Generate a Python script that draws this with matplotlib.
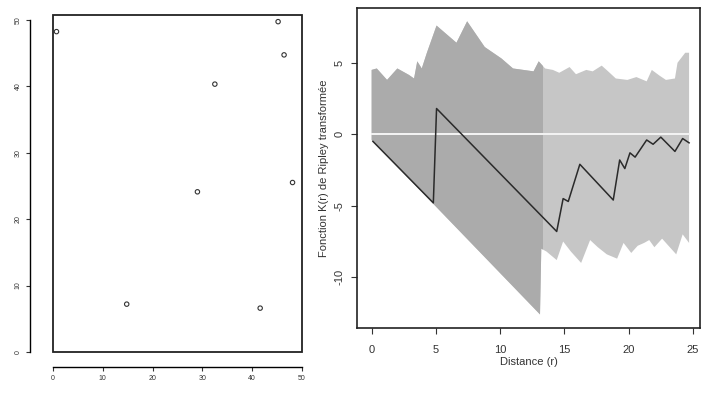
import matplotlib
matplotlib.use("Agg")
import matplotlib.pyplot as plt
from matplotlib.patches import Rectangle
import numpy as np

plt.rcParams['font.family'] = ['Liberation Sans', 'DejaVu Sans']
plt.rcParams['axes.unicode_minus'] = False

# point pattern (coordinates in metres)
pts_x = [0.7, 14.8, 29.0, 32.5, 45.2, 46.4, 48.1, 41.6]
pts_y = [48.2, 7.2, 24.1, 40.3, 49.7, 44.7, 25.5, 6.6]

# simulation envelope, upper and lower bounds
r_hi = [0, 0.4, 1.2, 2.0, 2.9, 3.3, 3.55, 3.9, 4.3, 5.05, 6.6, 7.43, 8.8, 10.1,
        11.0, 12.6, 13.0, 13.5, 14.1, 14.6, 15.4, 15.9, 16.7, 17.2, 17.9, 18.4,
        19.0, 19.9, 20.6, 21.4, 21.8, 22.4, 22.9, 23.6, 23.8, 24.4, 24.7]
k_hi = [4.5, 4.6, 3.8, 4.6, 4.15, 3.9, 5.1, 4.6, 5.7, 7.6, 6.4, 7.9, 6.1, 5.3,
        4.6, 4.4, 5.1, 4.6, 4.5, 4.3, 4.7, 4.2, 4.5, 4.4, 4.8, 4.4,
        3.9, 3.8, 4.0, 3.7, 4.5, 4.1, 3.8, 3.9, 5.0, 5.7, 5.7]
r_lo = [0, 13.1, 13.2, 13.6, 14.4, 14.9, 15.5, 16.3, 17.0, 17.6, 18.3, 19.1,
        19.6, 20.2, 20.7, 21.2, 21.6, 22.0, 22.6, 23.2, 23.7, 24.2, 24.7]
k_lo = [-0.4, -12.6, -8.0, -8.2, -8.8, -7.5, -8.2, -9.0, -7.4, -7.9, -8.4, -8.7,
        -7.6, -8.3, -7.8, -7.6, -7.4, -7.9, -7.3, -7.9, -8.4, -7.0, -7.6]

# observed transformed K function
r_obs = [0.1, 4.8, 5.05, 14.4, 14.9, 15.3, 16.2, 18.8, 19.3, 19.7, 20.1, 20.5,
         21.4, 21.9, 22.5, 23.6, 24.2, 24.7]
k_obs = [-0.5, -4.8, 1.8, -6.8, -4.5, -4.7, -2.1, -4.6, -1.8, -2.4, -1.3, -1.6,
         -0.4, -0.7, -0.2, -1.2, -0.3, -0.6]

fig = plt.figure(figsize=(7.03, 3.93), dpi=100)

# ---- left: map of the points
ax1 = fig.add_axes([53/703, 41/393, 249/703, 337/393])
ax1.scatter(pts_x, pts_y, s=10, facecolors='none', edgecolors='#333333', linewidths=0.8)
ax1.set_xlim(0, 50)
ax1.set_ylim(0, 50.7)
for side in ('top', 'right'):
    ax1.spines[side].set_visible(False)
ax1.spines['left'].set_position(('outward', 16.5))
ax1.spines['bottom'].set_position(('outward', 10.8))
ax1.spines['left'].set_bounds(0, 50)
ax1.spines['bottom'].set_bounds(0, 50)
for side in ('left', 'bottom'):
    ax1.spines[side].set_linewidth(1.0)
ax1.add_patch(Rectangle((0, 0), 1, 1, transform=ax1.transAxes, fill=False,
                        lw=1.3, edgecolor='#222222', clip_on=False))
ax1.set_xticks(range(0, 51, 10))
ax1.set_yticks(range(0, 51, 10))
ax1.tick_params(labelsize=5, length=3, width=0.8, colors='#333333', pad=3)
for lab in ax1.get_yticklabels():
    lab.set_rotation(90)
    lab.set_va('center')

# ---- right: K function with envelope
ax2 = fig.add_axes([357/703, 65/393, 343/703, 320/393])
env_x = np.concatenate([r_hi, r_lo[::-1]])
env_y = np.concatenate([k_hi, k_lo[::-1]])
ax2.fill(env_x, env_y, color='#c6c6c6', lw=0, zorder=1)
dark = ax2.fill(env_x, env_y, color='#ababab', lw=0, zorder=2)[0]
clip = Rectangle((-2, -20), 15.3, 40, transform=ax2.transData)
dark.set_clip_path(clip)
ax2.plot([r_hi[0], r_hi[-1]], [0, 0], color='#f4f4f4', lw=1.4, zorder=3)
ax2.plot(r_obs, k_obs, color='#2a2a2a', lw=1.1, zorder=4)

ax2.set_xlim(-1.14, 25.55)
ax2.set_ylim(-13.55, 8.83)
ax2.set_xticks(range(0, 26, 5))
ax2.set_yticks([-10, -5, 0, 5])
ax2.tick_params(labelsize=8, length=4, width=0.8, colors='#333333')
ax2.tick_params(axis='x', pad=8)
ax2.tick_params(axis='y', pad=5)
for lab in ax2.get_yticklabels():
    lab.set_rotation(90)
    lab.set_va('center')
for s in ax2.spines.values():
    s.set_linewidth(1.2)
    s.set_color('#222222')
ax2.set_xlabel('Distance (r)', fontsize=8, color='#333333', labelpad=2)
ax2.set_ylabel('Fonction K(r) de Ripley transformée', fontsize=8, color='#333333', labelpad=4)

fig.savefig('out.png', dpi=100)
